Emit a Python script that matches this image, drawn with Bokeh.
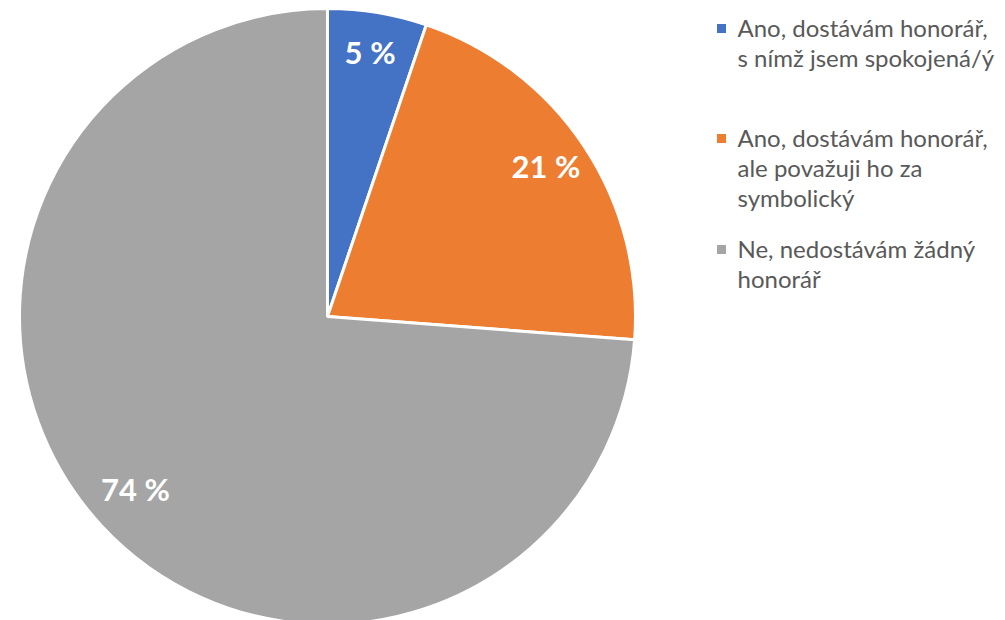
import math
from bokeh.plotting import figure
from bokeh.models import Range1d
from bokeh.core.properties import value
from bokeh.embed import file_html
from bokeh.resources import INLINE

# ---- data ----
categories = [
    "Ano, dostávám honorář, s nímž jsem spokojená/ý",
    "Ano, dostávám honorář, ale považuji ho za symbolický",
    "Ne, nedostávám žádný honorář",
]
legend_lines = [
    ["Ano, dostávám honorář,", "s nímž jsem spokojená/ý"],
    ["Ano, dostávám honorář,", "ale považuji ho za", "symbolický"],
    ["Ne, nedostávám žádný", "honorář"],
]
shares = [5.2, 21.0, 73.8]
labels = ["5 %", "21 %", "74 %"]
colors = ["#4472C4", "#ED7D31", "#A5A5A5"]

W, H = 997, 620
p = figure(width=W, height=H, output_backend="svg", toolbar_location=None,
           x_range=Range1d(0, W), y_range=Range1d(0, H),
           min_border=0, outline_line_color=None, background_fill_color="white")
p.axis.visible = False
p.grid.visible = False

# pie geometry (screen pixel based)
cx, cy, R = 327, H - 316, 308
total = sum(shares)
starts, ends, mids = [], [], []
cum = 0.0
for s in shares:
    a0 = math.pi / 2 - 2 * math.pi * cum / total
    cum += s
    a1 = math.pi / 2 - 2 * math.pi * cum / total
    starts.append(a0)
    ends.append(a1)
    mids.append((a0 + a1) / 2)

p.wedge(x=[cx] * 3, y=[cy] * 3, radius=R, start_angle=starts, end_angle=ends,
        direction="clock", fill_color=colors, line_color="white", line_width=3)

lr = 0.85 * R
lx = [cx + lr * math.cos(m) for m in mids]
ly = [cy + lr * math.sin(m) + 6 for m in mids]
p.text(x=lx, y=ly, text=labels, text_font=value("Lato"), text_font_style="bold",
       text_font_size="31px", text_color="white", text_align="center",
       text_baseline="middle")

# legend
sq_x = 721
item_base = [37, 147, 258]  # baseline of first line (image px)
line_h = 30
for i, lines in enumerate(legend_lines):
    base = item_base[i]
    p.rect(x=[sq_x], y=[H - (base - 9)], width=9, height=9,
           fill_color=colors[i], line_color=None)
    xs = [737] * len(lines)
    ys = [H - (base - 10 + k * line_h) for k in range(len(lines))]
    p.text(x=xs, y=ys, text=lines, text_font=value("Lato"), text_font_size="24px",
           text_color="#595959", text_align="left", text_baseline="alphabetic")

open("out.html", "w").write(file_html(p, INLINE))
